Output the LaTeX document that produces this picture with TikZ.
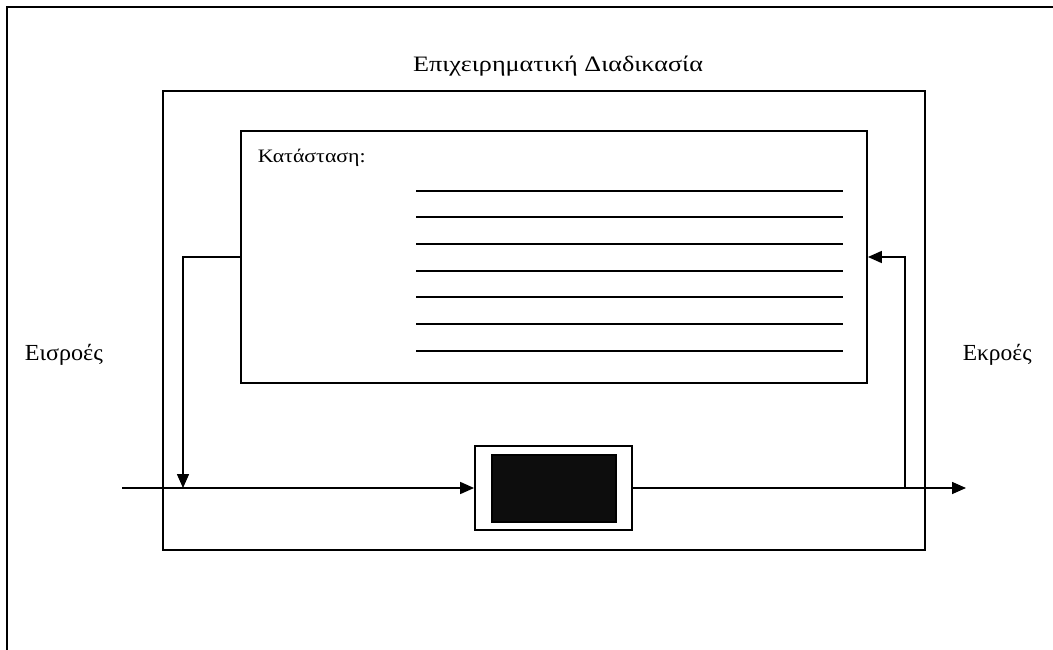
\documentclass[tikz,border=0pt]{standalone}
\usepackage{fontspec}
\usepackage{graphicx}
\setmainfont{Liberation Serif}
\usetikzlibrary{arrows.meta}
\begin{document}
\begin{tikzpicture}[x=1pt,y=-1pt,
  line width=1.6pt,
  box/.style={draw,rectangle,inner sep=0pt,line width=1.8pt},
  flow/.style={-{Triangle[length=14pt,width=12pt]}},
  label/.style={inner sep=0pt,font=\fontsize{23}{26}\selectfont}]
\useasboundingbox (0,0) rectangle (1053,650);
% page frame (left and top edges)
\draw[line width=2pt] (7,650) -- (7,7) -- (1053,7);
% process boundary
\node[box,minimum width=762pt,minimum height=459pt] (proc) at (544,320.5) {};
\node[inner sep=0pt,font=\fontsize{22}{26}\selectfont] (title) at (558,66)
  {\scalebox{1.19}[1]{Επιχειρηματική Διαδικασία}};
% state panel
\node[box,minimum width=626pt,minimum height=252pt] (state) at (554,257) {};
\node[inner sep=0pt,anchor=west,font=\fontsize{19}{22}\selectfont] (statelbl) at (257,158)
  {\scalebox{1.15}[1]{Κατάσταση:}};
\foreach \yy in {191,217,244,271,297,324,351}
  \draw[line width=2pt] (416,\yy) -- (843,\yy);
% activity block
\node[box,minimum width=157pt,minimum height=84pt] (act) at (553.5,488) {};
\node[draw,fill=black!95,inner sep=0pt,minimum width=124pt,minimum height=67pt] (core) at (554,488.5) {};
% inputs and outputs
\node[label,anchor=west] (inlbl) at (24,355) {\scalebox{1.05}[1]{Εισροές}};
\node[label,anchor=west] (outlbl) at (962,355) {\scalebox{1.02}[1]{Εκροές}};
\coordinate (inStart) at (122,488);
\coordinate (outEnd) at (966,488);
\coordinate (fbOut) at (905,488);
\coordinate (fbIn) at (183,488);
\draw[flow] (inStart) -- (act.west);
\draw[flow] (act.east) -- (outEnd);
\draw[flow] (fbOut) |- (state.east);
\draw[flow] (state.west) -| (fbIn);
\end{tikzpicture}
\end{document}
